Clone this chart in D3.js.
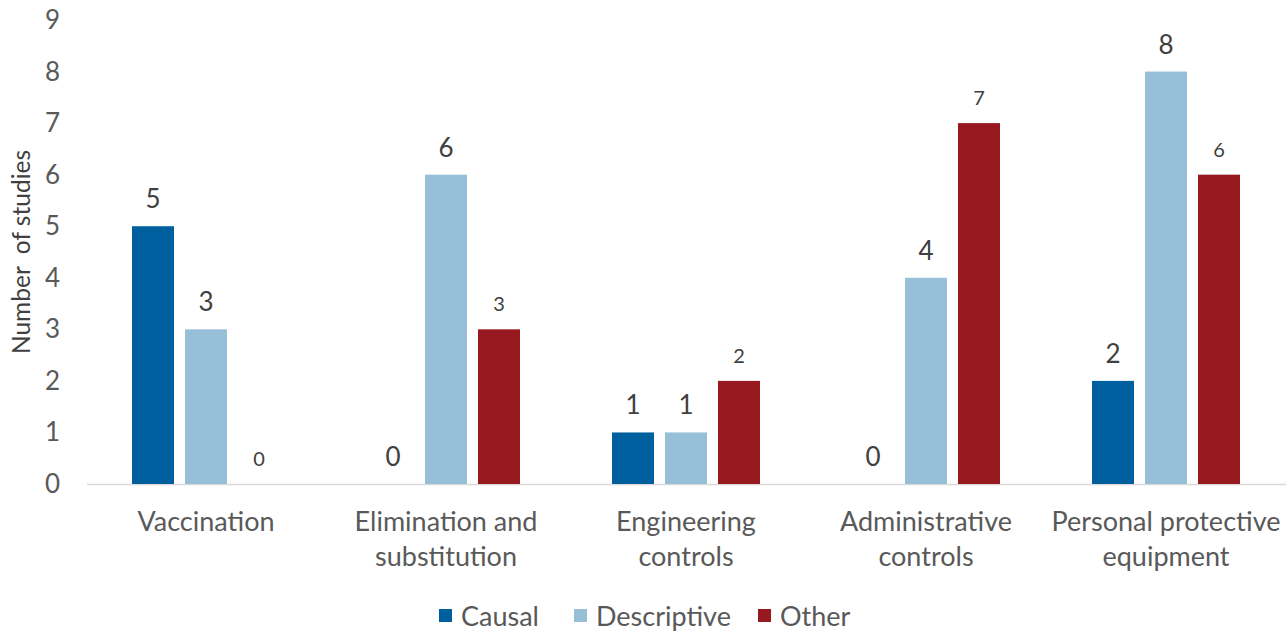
<!DOCTYPE html>
<html><head><meta charset="utf-8">
<script src="https://cdn.jsdelivr.net/npm/d3@7"></script>
<style>body{margin:0;background:#fff;}svg{display:block;font-family:Lato,"Open Sans",sans-serif;}</style>
</head><body>
<svg id="c" width="1288" height="631"></svg>
<script>
const categories = [["Vaccination"],["Elimination and","substitution"],["Engineering","controls"],["Administrative","controls"],["Personal protective","equipment"]];
const seriesNames = ["Causal","Descriptive","Other"];
const causal = [5,0,1,0,2];
const descriptive = [3,6,1,4,8];
const other = [0,3,2,7,6];
const yTicks = [0,1,2,3,4,5,6,7,8,9];
const colors = ["#005f9f","#97bfd8","#981820"];

const svg = d3.select("#c");
const x = d3.scaleBand().domain(d3.range(categories.length)).range([86,1286]);
const xi = d3.scaleBand().domain(seriesNames).range([0,148]).paddingInner(11/53).paddingOuter(0);
const y = d3.scaleLinear().domain([0,9]).range([484,20]);
const series = [causal,descriptive,other];

// y tick labels
svg.append("g").selectAll("text").data(yTicks).join("text")
  .attr("x",60).attr("y",d=>y(d)+9).attr("text-anchor","end")
  .attr("font-size",26).attr("fill","#595959").text(d=>d);

// y title
svg.append("text").attr("transform","translate(30,252) rotate(-90)")
  .attr("text-anchor","middle").attr("font-size",24.5).attr("fill","#404040")
  .attr("xml:space","preserve").style("white-space","pre").text("Number  of studies");

// baseline
svg.append("line").attr("x1",87).attr("x2",1286).attr("y1",484.5).attr("y2",484.5)
  .attr("stroke","#d9d9d9").attr("stroke-width",1.5);

// bars
series.forEach((vals,si)=>{
  const g = svg.append("g");
  g.selectAll("rect").data(vals).join("rect")
    .attr("x",(d,i)=>x(i)+x.bandwidth()/2-74+xi(seriesNames[si]))
    .attr("width",xi.bandwidth())
    .attr("y",d=>y(d)).attr("height",d=>y(0)-y(d))
    .attr("fill",colors[si]);
  g.selectAll("text").data(vals).join("text")
    .attr("x",(d,i)=>x(i)+x.bandwidth()/2-74+xi(seriesNames[si])+xi.bandwidth()/2)
    .attr("y",d=>y(d)-18).attr("text-anchor","middle")
    .attr("font-size",si===2?20:26).attr("fill","#404040").text(d=>d);
});

// category labels
const cl = svg.append("g");
categories.forEach((lines,i)=>{
  const t = cl.append("text").attr("text-anchor","middle").attr("font-size",27).attr("fill","#595959");
  lines.forEach((l,j)=>t.append("tspan").attr("x",x(i)+x.bandwidth()/2).attr("y",531+j*35).text(l));
});

// legend
const lx = [439,574,758];
const lg = svg.append("g");
seriesNames.forEach((s,i)=>{
  lg.append("rect").attr("x",lx[i]).attr("y",609).attr("width",13).attr("height",13).attr("fill",colors[i]);
  lg.append("text").attr("x",lx[i]+22).attr("y",626).attr("font-size",27).attr("fill","#595959").text(s);
});
</script>
</body></html>
